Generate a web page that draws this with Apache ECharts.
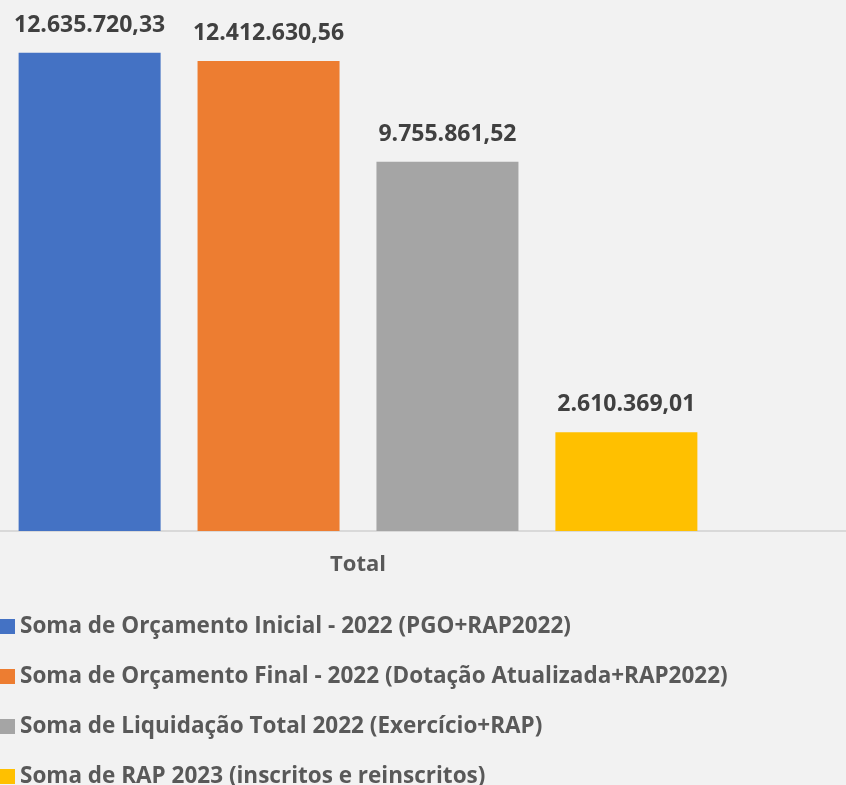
<!DOCTYPE html>
<html>
<head>
<meta charset="utf-8">
<script src="https://cdn.jsdelivr.net/npm/echarts@6/dist/echarts.min.js"></script>
<style>
  html, body { margin: 0; padding: 0; background: #f2f2f2; }
  #chart { width: 846px; height: 785px; }
</style>
</head>
<body>
<div id="chart"></div>
<script>
// dados
const categorias = ['Total']
const series_nomes = [
    'Soma de Orçamento Inicial - 2022 (PGO+RAP2022)',
    'Soma de Orçamento Final - 2022 (Dotação Atualizada+RAP2022)',
    'Soma de Liquidação Total 2022 (Exercício+RAP)',
    'Soma de RAP 2023 (inscritos e reinscritos)'
]
const valores = [12635720.33, 12412630.56, 9755861.52, 2610369.01]
const cores = ['#4472c4', '#ed7d31', '#a5a5a5', '#ffc000']

// formato brasileiro 12.635.720,33
function fmt(v) {
    let partes = v.toFixed(2).split('.')
    let inteiro = partes[0].replace(/\B(?=(\d{3})+(?!\d))/g, '.')
    return inteiro + ',' + partes[1]
}

const fonte = '"Open Sans", "Noto Sans", sans-serif'
const W = 846, H = 785
const gridBottom = 254

let series = series_nomes.map((nome, i) => ({
    name: nome,
    type: 'bar',
    data: [valores[i]],
    barWidth: 142,
    barGap: '26%',
    itemStyle: { color: cores[i] },
    label: {
        show: true,
        position: 'top',
        distance: 16,
        formatter: p => fmt(p.value),
        color: '#404040',
        fontFamily: fonte,
        fontWeight: 'bold',
        fontSize: 23
    }
}))

let myChart = echarts.init(document.getElementById('chart'))
myChart.setOption({
    backgroundColor: '#f2f2f2',
    animation: false,
    grid: { left: 0, right: 130, top: 1, bottom: gridBottom, containLabel: false },
    // linha do eixo continua até a borda direita
    graphic: [{
        type: 'line',
        z: 0,
        shape: { x1: 0, y1: H - gridBottom, x2: W, y2: H - gridBottom },
        style: { stroke: '#d9d9d9', lineWidth: 2 }
    }],
    xAxis: {
        type: 'category',
        data: categorias,
        axisLine: { show: false },
        axisTick: { show: false },
        axisLabel: {
            margin: 23,
            color: '#595959',
            fontFamily: fonte,
            fontWeight: 'bold',
            fontSize: 22
        }
    },
    yAxis: {
        type: 'value',
        min: 0,
        max: 14000000,
        show: false,
        splitLine: { show: false }
    },
    legend: {
        orient: 'vertical',
        left: 0,
        top: 615,
        height: 400,
        padding: 0,
        icon: 'rect',
        itemWidth: 15,
        itemHeight: 15,
        itemGap: 27,
        textStyle: {
            color: '#595959',
            fontFamily: fonte,
            fontWeight: 'bold',
            fontSize: 22.5,
            lineHeight: 20
        }
    },
    series: series
})
</script>
</body>
</html>
